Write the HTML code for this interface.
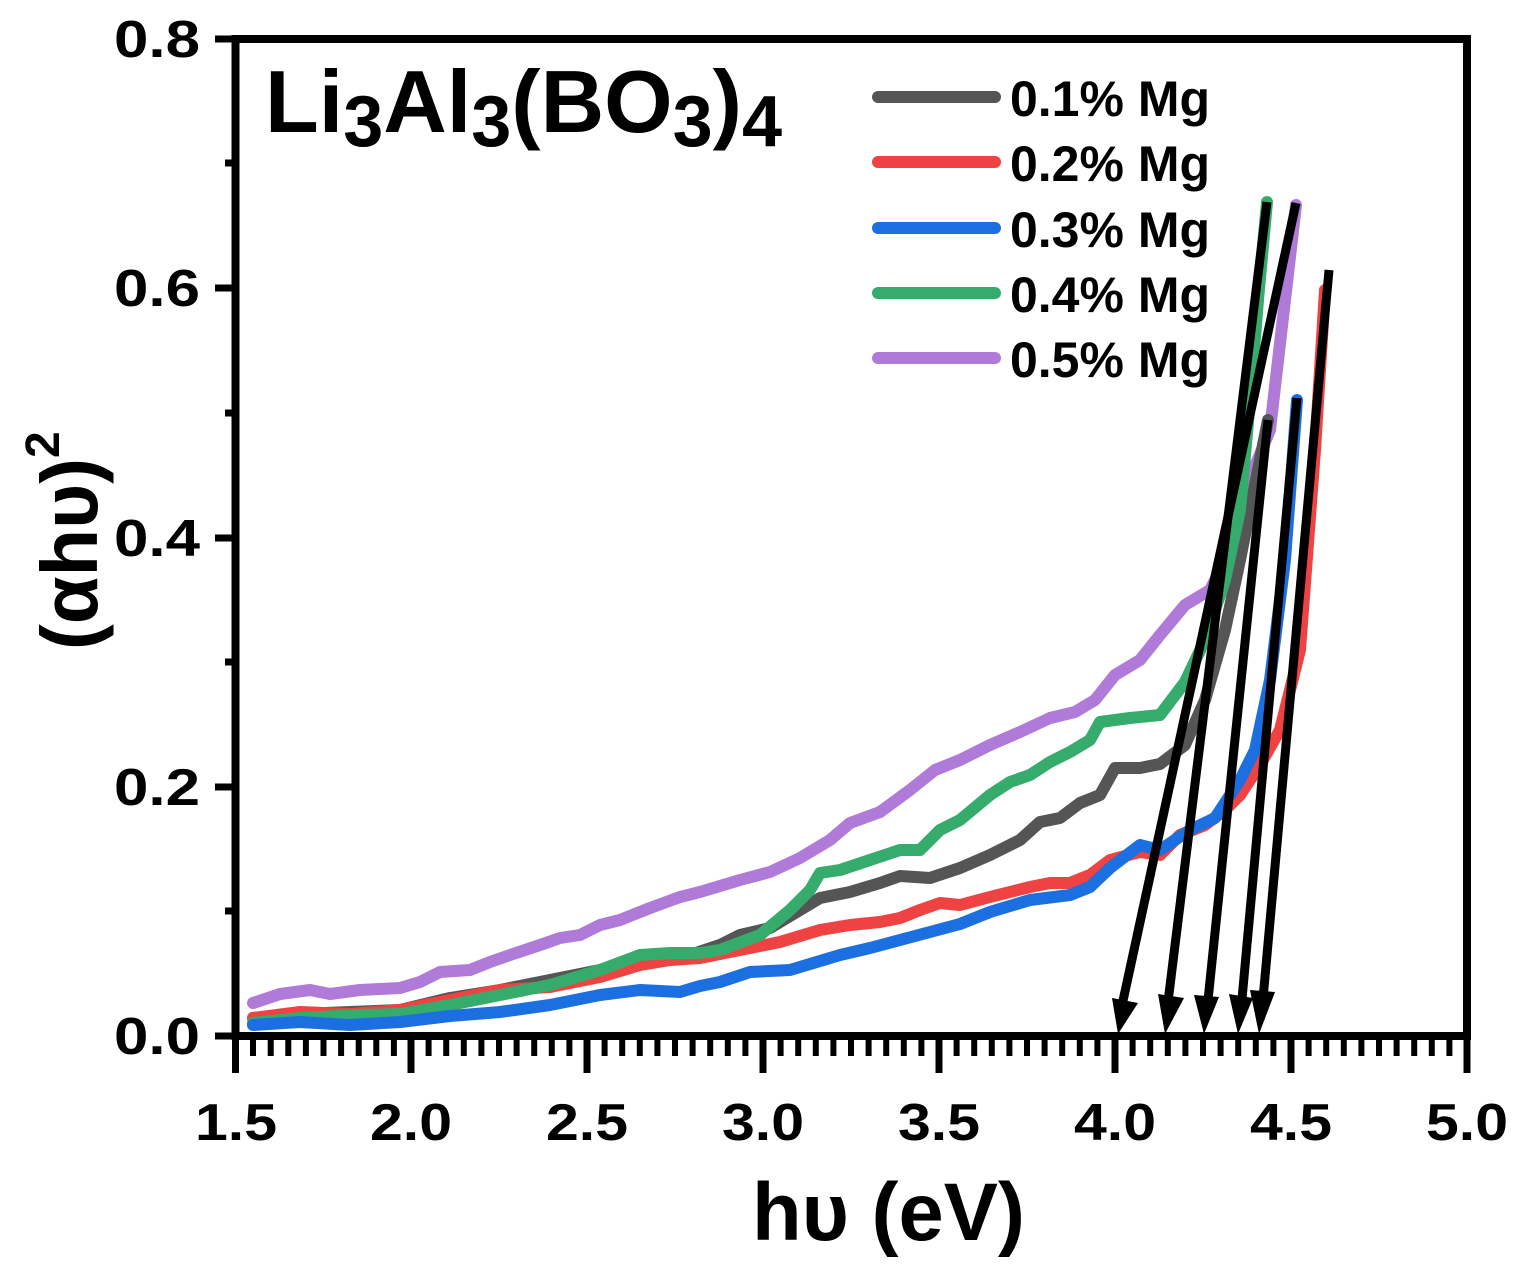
<!DOCTYPE html>
<html><head><meta charset="utf-8"><style>
html,body{margin:0;padding:0;background:#fff;}
svg{display:block;font-family:"Liberation Sans",Arial,sans-serif;font-weight:bold;}
</style></head><body>
<svg width="1529" height="1273" viewBox="0 0 1529 1273" xmlns="http://www.w3.org/2000/svg">
<g fill="none" stroke-linejoin="round" stroke-linecap="round" stroke-width="12">
<polyline stroke="#b07ad9" points="253,1003 280,994 310,990 330,994 360,990 400,988 420,982 440,972 470,970 490,962 510,955 540,945 560,938 580,935 600,925 620,920 650,908 680,897 700,892 720,886 740,880 770,872 800,858 830,840 850,823 880,812 910,790 935,770 960,760 990,745 1020,732 1050,718 1075,712 1095,700 1115,675 1140,660 1160,635 1185,605 1210,590 1225,560 1245,490 1270,430 1296,205"/>
<polyline stroke="#555555" points="253,1018 300,1014 350,1012 400,1010 450,998 500,990 550,980 600,970 650,960 690,955 720,945 740,935 770,928 800,910 820,898 850,892 880,883 900,876 930,878 960,868 990,855 1020,840 1040,822 1060,818 1080,803 1100,795 1115,768 1140,768 1160,764 1185,745 1205,700 1225,630 1240,560 1268,420"/>
<polyline stroke="#ef4242" points="253,1018 300,1012 350,1014 400,1010 450,1000 500,990 550,987 600,977 640,965 670,960 700,958 740,950 780,942 820,930 850,925 880,922 900,918 920,910 940,903 960,905 990,897 1030,887 1050,883 1070,883 1090,875 1110,860 1140,852 1160,855 1180,835 1205,825 1225,810 1240,795 1260,765 1280,730 1300,650 1315,450 1325,290"/>
<polyline stroke="#36ac6c" points="253,1023 300,1018 360,1015 400,1014 450,1005 500,995 550,985 600,970 640,955 670,953 700,953 720,950 760,935 790,910 810,890 820,873 840,870 870,860 900,850 920,850 940,830 960,820 990,795 1010,782 1030,775 1050,762 1070,752 1090,740 1100,722 1130,718 1160,715 1185,682 1205,640 1225,580 1240,510 1250,400 1258,300 1267,202"/>
<polyline stroke="#1c6fe0" points="253,1025 300,1022 350,1025 400,1022 450,1016 500,1012 550,1005 600,995 640,990 680,992 700,986 720,982 750,972 790,970 810,964 840,955 870,948 900,940 930,932 960,924 990,912 1030,900 1070,895 1090,887 1110,868 1140,845 1160,850 1190,830 1215,818 1240,780 1255,750 1270,680 1285,560 1297,400"/>
</g>
<g stroke="#000" stroke-width="9" fill="#000">
<line x1="1296" y1="203" x2="1121" y2="1010"/>
<line x1="1267" y1="202" x2="1167" y2="1010"/>
<line x1="1268" y1="420" x2="1207" y2="1010"/>
<line x1="1297" y1="398" x2="1241" y2="1010"/>
<line x1="1329" y1="270" x2="1262" y2="1010"/>
</g>
<g fill="#000">
<polygon points="1112,998 1138,1003 1118,1034"/>
<polygon points="1158,994 1184,998 1165,1034"/>
<polygon points="1194,995 1219,997 1204,1034"/>
<polygon points="1229,994 1253,998 1238,1034"/>
<polygon points="1250,990 1275,992 1259,1034"/>
</g>
<rect x="235.5" y="39" width="1231.5" height="997" fill="none" stroke="#000" stroke-width="8"/>
<g stroke="#000" stroke-width="7">
<line x1="235.5" y1="1036" x2="235.5" y2="1073"/>
<line x1="587" y1="1036" x2="587" y2="1073"/>
<line x1="939" y1="1036" x2="939" y2="1073"/>
<line x1="1291" y1="1036" x2="1291" y2="1073"/>
<line x1="411" y1="1036" x2="411" y2="1073"/>
<line x1="763" y1="1036" x2="763" y2="1073"/>
<line x1="1115" y1="1036" x2="1115" y2="1073"/>
<line x1="1467" y1="1036" x2="1467" y2="1073"/>
</g>
<g stroke="#000" stroke-width="6">
<line x1="253" y1="1036" x2="253" y2="1056"/><line x1="270.7" y1="1036" x2="270.7" y2="1056"/><line x1="288.3" y1="1036" x2="288.3" y2="1056"/><line x1="305.9" y1="1036" x2="305.9" y2="1056"/><line x1="323.5" y1="1036" x2="323.5" y2="1056"/><line x1="341.1" y1="1036" x2="341.1" y2="1056"/><line x1="358.7" y1="1036" x2="358.7" y2="1056"/><line x1="376.3" y1="1036" x2="376.3" y2="1056"/><line x1="393.9" y1="1036" x2="393.9" y2="1056"/>
<line x1="428.6" y1="1036" x2="428.6" y2="1056"/><line x1="446.2" y1="1036" x2="446.2" y2="1056"/><line x1="463.8" y1="1036" x2="463.8" y2="1056"/><line x1="481.4" y1="1036" x2="481.4" y2="1056"/><line x1="499" y1="1036" x2="499" y2="1056"/><line x1="516.6" y1="1036" x2="516.6" y2="1056"/><line x1="534.2" y1="1036" x2="534.2" y2="1056"/><line x1="551.8" y1="1036" x2="551.8" y2="1056"/><line x1="569.4" y1="1036" x2="569.4" y2="1056"/>
<line x1="604.6" y1="1036" x2="604.6" y2="1056"/><line x1="622.2" y1="1036" x2="622.2" y2="1056"/><line x1="639.8" y1="1036" x2="639.8" y2="1056"/><line x1="657.4" y1="1036" x2="657.4" y2="1056"/><line x1="675" y1="1036" x2="675" y2="1056"/><line x1="692.6" y1="1036" x2="692.6" y2="1056"/><line x1="710.2" y1="1036" x2="710.2" y2="1056"/><line x1="727.8" y1="1036" x2="727.8" y2="1056"/><line x1="745.4" y1="1036" x2="745.4" y2="1056"/>
<line x1="780.6" y1="1036" x2="780.6" y2="1056"/><line x1="798.2" y1="1036" x2="798.2" y2="1056"/><line x1="815.8" y1="1036" x2="815.8" y2="1056"/><line x1="833.4" y1="1036" x2="833.4" y2="1056"/><line x1="851" y1="1036" x2="851" y2="1056"/><line x1="868.6" y1="1036" x2="868.6" y2="1056"/><line x1="886.2" y1="1036" x2="886.2" y2="1056"/><line x1="903.8" y1="1036" x2="903.8" y2="1056"/><line x1="921.4" y1="1036" x2="921.4" y2="1056"/>
<line x1="956.6" y1="1036" x2="956.6" y2="1056"/><line x1="974.2" y1="1036" x2="974.2" y2="1056"/><line x1="991.8" y1="1036" x2="991.8" y2="1056"/><line x1="1009.4" y1="1036" x2="1009.4" y2="1056"/><line x1="1027" y1="1036" x2="1027" y2="1056"/><line x1="1044.6" y1="1036" x2="1044.6" y2="1056"/><line x1="1062.2" y1="1036" x2="1062.2" y2="1056"/><line x1="1079.8" y1="1036" x2="1079.8" y2="1056"/><line x1="1097.4" y1="1036" x2="1097.4" y2="1056"/>
<line x1="1132.6" y1="1036" x2="1132.6" y2="1056"/><line x1="1150.2" y1="1036" x2="1150.2" y2="1056"/><line x1="1167.8" y1="1036" x2="1167.8" y2="1056"/><line x1="1185.4" y1="1036" x2="1185.4" y2="1056"/><line x1="1203" y1="1036" x2="1203" y2="1056"/><line x1="1220.6" y1="1036" x2="1220.6" y2="1056"/><line x1="1238.2" y1="1036" x2="1238.2" y2="1056"/><line x1="1255.8" y1="1036" x2="1255.8" y2="1056"/><line x1="1273.4" y1="1036" x2="1273.4" y2="1056"/>
<line x1="1308.6" y1="1036" x2="1308.6" y2="1056"/><line x1="1326.2" y1="1036" x2="1326.2" y2="1056"/><line x1="1343.8" y1="1036" x2="1343.8" y2="1056"/><line x1="1361.4" y1="1036" x2="1361.4" y2="1056"/><line x1="1379" y1="1036" x2="1379" y2="1056"/><line x1="1396.6" y1="1036" x2="1396.6" y2="1056"/><line x1="1414.2" y1="1036" x2="1414.2" y2="1056"/><line x1="1431.8" y1="1036" x2="1431.8" y2="1056"/><line x1="1449.4" y1="1036" x2="1449.4" y2="1056"/>
</g>
<g stroke="#000" stroke-width="7">
<line x1="215" y1="1036" x2="235" y2="1036"/>
<line x1="215" y1="787" x2="235" y2="787"/>
<line x1="215" y1="538" x2="235" y2="538"/>
<line x1="215" y1="288" x2="235" y2="288"/>
<line x1="215" y1="39" x2="235" y2="39"/>
<line x1="225" y1="911" x2="235" y2="911"/>
<line x1="225" y1="662" x2="235" y2="662"/>
<line x1="225" y1="413" x2="235" y2="413"/>
<line x1="225" y1="163" x2="235" y2="163"/>
</g>
<g font-size="52" text-anchor="end" fill="#000">
<text x="200" y="1054" textLength="86" lengthAdjust="spacingAndGlyphs">0.0</text>
<text x="200" y="805" textLength="86" lengthAdjust="spacingAndGlyphs">0.2</text>
<text x="200" y="556" textLength="86" lengthAdjust="spacingAndGlyphs">0.4</text>
<text x="200" y="306" textLength="86" lengthAdjust="spacingAndGlyphs">0.6</text>
<text x="200" y="57" textLength="86" lengthAdjust="spacingAndGlyphs">0.8</text>
</g>
<g font-size="52" text-anchor="middle" fill="#000">
<text x="236" y="1140" textLength="82" lengthAdjust="spacingAndGlyphs">1.5</text>
<text x="411" y="1140" textLength="82" lengthAdjust="spacingAndGlyphs">2.0</text>
<text x="587" y="1140" textLength="82" lengthAdjust="spacingAndGlyphs">2.5</text>
<text x="763" y="1140" textLength="82" lengthAdjust="spacingAndGlyphs">3.0</text>
<text x="939" y="1140" textLength="82" lengthAdjust="spacingAndGlyphs">3.5</text>
<text x="1115" y="1140" textLength="82" lengthAdjust="spacingAndGlyphs">4.0</text>
<text x="1291" y="1140" textLength="82" lengthAdjust="spacingAndGlyphs">4.5</text>
<text x="1467" y="1140" textLength="82" lengthAdjust="spacingAndGlyphs">5.0</text>
</g>
<text x="752" y="1240" font-size="82" textLength="273" lengthAdjust="spacingAndGlyphs">hυ (eV)</text>
<text transform="translate(97,650) rotate(-90)" font-size="80"><tspan textLength="192" lengthAdjust="spacingAndGlyphs">(αhυ)</tspan><tspan font-size="48" dy="-38">2</tspan></text>
<text x="265" y="132" font-size="88">Li<tspan font-size="72" dy="14">3</tspan><tspan dy="-14">Al</tspan><tspan font-size="72" dy="14">3</tspan><tspan dy="-14">(BO</tspan><tspan font-size="72" dy="14">3</tspan><tspan dy="-14">)</tspan><tspan font-size="72" dy="14">4</tspan></text>
<g stroke-width="12" stroke-linecap="round">
<line x1="878" y1="97" x2="995" y2="97" stroke="#555555"/>
<line x1="878" y1="162" x2="995" y2="162" stroke="#ef4242"/>
<line x1="878" y1="228" x2="995" y2="228" stroke="#1c6fe0"/>
<line x1="878" y1="293" x2="995" y2="293" stroke="#36ac6c"/>
<line x1="878" y1="358" x2="995" y2="358" stroke="#b07ad9"/>
</g>
<g font-size="50" fill="#000">
<text x="1010" y="116" textLength="200" lengthAdjust="spacingAndGlyphs">0.1% Mg</text>
<text x="1010" y="181" textLength="200" lengthAdjust="spacingAndGlyphs">0.2% Mg</text>
<text x="1010" y="247" textLength="200" lengthAdjust="spacingAndGlyphs">0.3% Mg</text>
<text x="1010" y="312" textLength="200" lengthAdjust="spacingAndGlyphs">0.4% Mg</text>
<text x="1010" y="377" textLength="200" lengthAdjust="spacingAndGlyphs">0.5% Mg</text>
</g>
</svg>
</body></html>
